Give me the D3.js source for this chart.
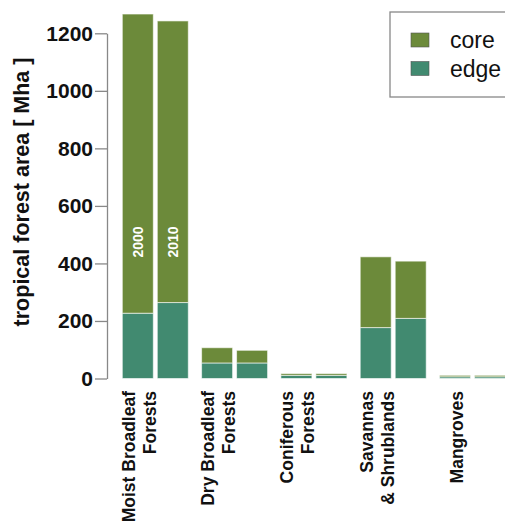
<!DOCTYPE html>
<html>
<head>
<meta charset="utf-8">
<script src="https://cdn.jsdelivr.net/npm/d3@7/dist/d3.min.js"></script>
<style>
  body { margin: 0; background: #fff; }
  text { font-family: "Liberation Sans", Arial, sans-serif; }
</style>
</head>
<body>
<div id="chart"></div>
<script>
// biome categories (label lines) and years
const categories = ["Moist Broadleaf Forests", "Dry Broadleaf Forests", "Coniferous Forests", "Savannas & Shrublands", "Mangroves"];
const categoryLines = [["Moist Broadleaf", "Forests"], ["Dry Broadleaf", "Forests"], ["Coniferous", "Forests"], ["Savannas", "& Shrublands"], ["Mangroves"]];
const years = ["2000", "2010"];

// Mha, order = categories
const edge2000 = [227, 54, 11, 177, 6];
const core2000 = [1040, 53, 6, 246, 5];
const edge2010 = [264, 54, 11, 209, 6];
const core2010 = [979, 44, 6, 199, 5];

const yTicks = [0, 200, 400, 600, 800, 1000, 1200];
const seriesNames = ["core", "edge"];
const colors = { core: "#6c8a3a", edge: "#418a70" };

const width = 505, height = 522;

const svg = d3.select("#chart").append("svg")
  .attr("width", width)
  .attr("height", height);

const y = d3.scaleLinear().domain([0, 1200]).range([378.5, 33.3]);

const x0 = d3.scaleBand()
  .domain(categories)
  .range([122.3, 505.5])
  .paddingInner(0.168)
  .paddingOuter(0);

const x1 = d3.scaleBand()
  .domain(years)
  .range([0, x0.bandwidth()])
  .paddingInner(0.114)
  .paddingOuter(0);

// build rows
const rows = [];
categories.forEach((c, i) => {
  rows.push({ cat: c, year: "2000", edge: edge2000[i], core: core2000[i] });
  rows.push({ cat: c, year: "2010", edge: edge2010[i], core: core2010[i] });
});

const stacked = d3.stack().keys(["edge", "core"])(rows);

svg.append("g")
  .selectAll("g")
  .data(stacked)
  .join("g")
  .attr("fill", d => colors[d.key])
  .selectAll("rect")
  .data(d => d)
  .join("rect")
  .attr("x", d => x0(d.data.cat) + x1(d.data.year))
  .attr("width", x1.bandwidth())
  .attr("y", d => y(d[1]))
  .attr("height", d => y(d[0]) - y(d[1]))
  .attr("stroke", "#ffffff")
  .attr("stroke-opacity", 0.6)
  .attr("stroke-width", 1);

// year labels inside the moist broadleaf bars
svg.append("g")
  .selectAll("text")
  .data(years)
  .join("text")
  .attr("transform", d => `translate(${x0(categories[0]) + x1(d) + x1.bandwidth() / 2},242) rotate(-90)`)
  .attr("text-anchor", "middle")
  .attr("dominant-baseline", "central")
  .attr("fill", "#fff")
  .attr("font-size", 14)
  .attr("font-weight", "bold")
  .text(d => d);

// y axis
const yAxis = svg.append("g")
  .attr("transform", "translate(107,0)")
  .call(d3.axisLeft(y).tickValues(yTicks).tickFormat(d3.format("d")).tickSize(12).tickSizeOuter(0).tickPadding(2));
yAxis.select(".domain").attr("stroke", "#888").attr("stroke-width", 1.3);
yAxis.selectAll(".tick line").attr("stroke", "#888").attr("stroke-width", 1.3);
yAxis.selectAll(".tick text")
  .attr("font-size", 21)
  .attr("font-weight", "bold")
  .attr("fill", "#111")
  .attr("font-family", "'Liberation Sans', Arial, sans-serif");

svg.append("text")
  .attr("transform", "translate(22,192) rotate(-90)")
  .attr("text-anchor", "middle")
  .attr("dominant-baseline", "central")
  .attr("font-size", 21.5)
  .attr("font-weight", "bold")
  .attr("fill", "#111")
  .text("tropical forest area [ Mha ]");

// x category labels
categories.forEach((c, i) => {
  const lines = categoryLines[i];
  const cx = x0(c) + x0.bandwidth() / 2 - 16;
  lines.forEach((ln, j) => {
    svg.append("text")
      .attr("transform", `translate(${cx + (j - (lines.length - 1) / 2) * 21},391) rotate(-90)`)
      .attr("text-anchor", "end")
      .attr("dominant-baseline", "central")
      .attr("font-size", 17.5)
      .attr("font-weight", "bold")
      .attr("fill", "#111")
      .text(ln);
  });
});

// legend
const legend = svg.append("g");
legend.append("rect")
  .attr("x", 390).attr("y", 12)
  .attr("width", 130).attr("height", 85)
  .attr("fill", "#fff")
  .attr("stroke", "#888")
  .attr("stroke-width", 1.3);
seriesNames.forEach((s, i) => {
  legend.append("rect")
    .attr("x", 411).attr("y", 33 + i * 28.5)
    .attr("width", 18).attr("height", 14)
    .attr("fill", colors[s])
    .attr("stroke", "#555")
    .attr("stroke-width", 0.6);
  legend.append("text")
    .attr("x", 450).attr("y", 40 + i * 28.5)
    .attr("dominant-baseline", "central")
    .attr("font-size", 23)
    .attr("fill", "#111")
    .text(s);
});
</script>
</body>
</html>
